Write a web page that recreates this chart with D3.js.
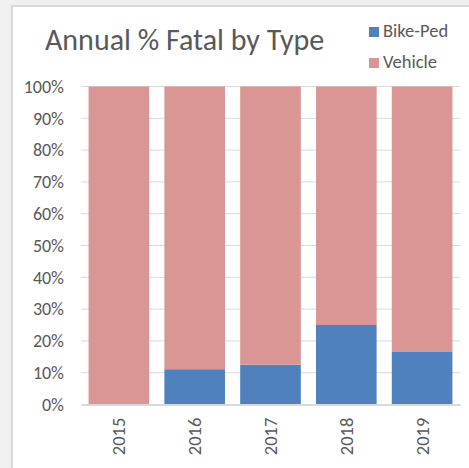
<!doctype html>
<html lang="en">
<head>
 <meta charset="utf-8">
 <title>Annual % Fatal by Type</title>
 <style>
 body{margin:0;background:#f0f0f0;}
 svg{display:block;font-family:Carlito,Calibri,Lato,sans-serif;}
 </style>
 <script src="https://cdnjs.cloudflare.com/ajax/libs/d3/7.8.5/d3.min.js"></script>
</head>
<body>
 <svg width="469" height="468"></svg>
 <script>

 const years=["2015","2016","2017","2018","2019"];
 const bikePed=[0,0.111,0.125,0.25,0.167];
 const vehicle=[1,0.889,0.875,0.75,0.833];
 const seriesNames=["Bike-Ped","Vehicle"];
 const yTicks=[0,0.1,0.2,0.3,0.4,0.5,0.6,0.7,0.8,0.9,1];

 const colors={"Bike-Ped":"#4f81bd","Vehicle":"#d99694"};

 const svg=d3.select("svg");

 // chart frame
 svg.append("rect")
 .attr("x",12).attr("y",6)
 .attr("width",470).attr("height",470)
 .style("fill","#fff")
 .style("stroke","#d9d9d9")
 .style("stroke-width",2);

 const margin={top:86.5,left:81,right:9,bottom:63.5};
 const width=469-margin.left-margin.right;
 const height=468-margin.top-margin.bottom;

 const rows=years.map((y,i)=>({year:y,"Bike-Ped":bikePed[i],"Vehicle":vehicle[i]}));
 const stacked=d3.stack().keys(seriesNames)(rows);

 const xScale=d3.scaleBand()
 .domain(years)
 .range([0,width])
 .paddingInner(0.2)
 .paddingOuter(0.1);

 const yScale=d3.scaleLinear()
 .domain([0,1])
 .range([height,0]);

 const g=svg.append("g")
 .attr("transform",`translate(${margin.left},${margin.top})`);

 // gridlines
 g.append("g")
 .selectAll("line")
 .data(yTicks)
 .enter()
 .append("line")
 .attr("x1",0)
 .attr("x2",width)
 .attr("y1",d=>yScale(d))
 .attr("y2",d=>yScale(d))
 .style("stroke","#d9d9d9")
 .style("stroke-width",1);

 // y axis
 const yAxis=d3.axisLeft(yScale)
 .tickValues(yTicks)
 .tickFormat(d3.format(".0%"))
 .tickSize(0)
 .tickPadding(17);

 g.append("g")
 .call(yAxis)
 .call(s=>s.select(".domain").remove())
 .selectAll("text")
 .style("font-size","18px")
 .style("fill","#595959")
 .style("font-family","Carlito,Calibri,Lato,sans-serif");

 // bars
 g.append("g")
 .selectAll("g")
 .data(stacked)
 .enter()
 .append("g")
 .style("fill",d=>colors[d.key])
 .selectAll("rect")
 .data(d=>d)
 .enter()
 .append("rect")
 .attr("x",d=>xScale(d.data.year))
 .attr("width",xScale.bandwidth())
 .attr("y",d=>yScale(d[1]))
 .attr("height",d=>yScale(d[0])-yScale(d[1]));

 // x axis
 const xAxis=d3.axisBottom(xScale).tickSize(0).tickPadding(0);
 const xg=g.append("g")
 .attr("transform",`translate(0,${height})`)
 .call(xAxis);
 xg.select(".domain")
 .style("stroke","#d9d9d9")
 .style("stroke-width",2);
 xg.selectAll("text")
 .attr("transform","rotate(-90)")
 .attr("x",-32)
 .attr("y",0)
 .attr("dy","0.35em")
 .style("text-anchor","middle")
 .style("font-size","18.5px")
 .style("fill","#595959")
 .style("font-family","Carlito,Calibri,Lato,sans-serif");

 // title
 svg.append("text")
 .text("Annual % Fatal by Type")
 .attr("x",45)
 .attr("y",50)
 .style("font-size","30px")
 .style("fill","#595959");

 // legend
 const legend=svg.append("g")
 .selectAll("g")
 .data(seriesNames)
 .enter()
 .append("g")
 .attr("transform",(d,i)=>`translate(369,${27+i*31})`);
 legend.append("rect")
 .attr("width",10)
 .attr("height",10)
 .style("fill",d=>colors[d]);
 legend.append("text")
 .text(d=>d)
 .attr("x",14)
 .attr("y",10)
 .style("font-size","18.5px")
 .style("fill","#595959");

 </script>
</body>
</html>
